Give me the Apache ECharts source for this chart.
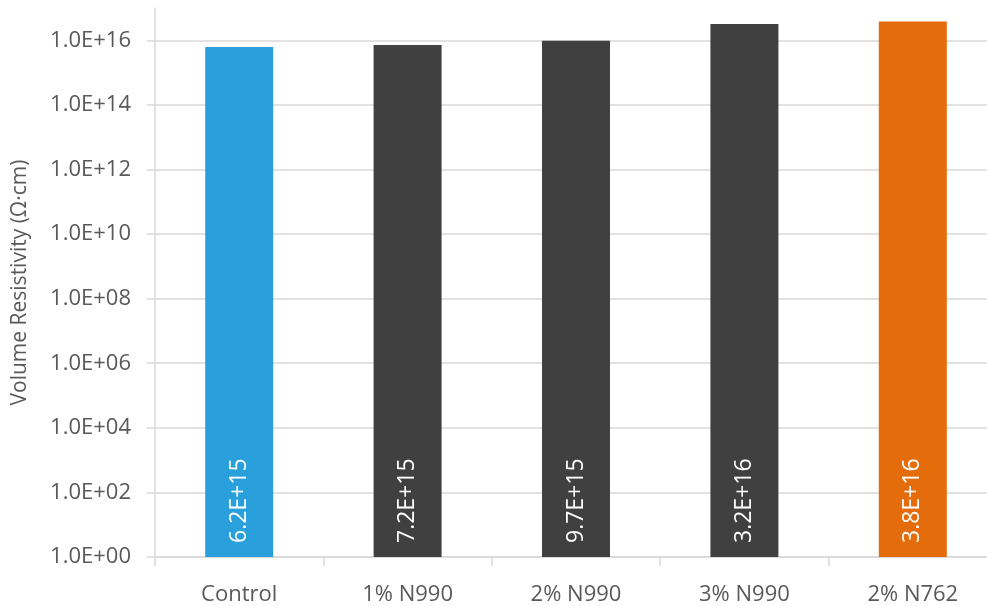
<!doctype html>
<html lang="en">
<head>
    <meta charset="UTF-8">
    <title>Volume Resistivity</title>
    <style>
        html, body { margin: 0; padding: 0; background: #fff; }
        #main { width: 987px; height: 606px; }
    </style>
    <script src="https://cdn.jsdelivr.net/npm/echarts@6/dist/echarts.min.js"></script>
</head>
<body>
    <div id="main"></div>
    <script>
        var categories = ['Control', '1% N990', '2% N990', '3% N990', '2% N762'];
        var resistivity = [6.2e15, 7.2e15, 9.7e15, 3.2e16, 3.8e16];
        var barColors = ['#29a0dc', '#404040', '#404040', '#404040', '#e46c0a'];

        // 1.0E+16 style, two-digit exponent
        function sci(v, digits) {
            var s = Number(v).toExponential(digits).toUpperCase();
            return s.replace(/E([+-])(\d)$/, 'E$10$2');
        }

        window.onload = function () {
            var myChart = echarts.init(document.getElementById('main'));
            var font = '"Open Sans", "Noto Sans", sans-serif';
            var option = {
                animation: false,
                grid: { left: 155, right: -10, top: 8, bottom: 49, outerBoundsMode: 'none', containLabel: false },
                xAxis: {
                    type: 'category',
                    data: categories,
                    axisLine: { lineStyle: { color: '#d9d9d9', width: 1.5 } },
                    axisTick: { show: true, length: 9, lineStyle: { color: '#d9d9d9', width: 1.5 } },
                    axisLabel: { color: '#595959', fontSize: 22, fontFamily: font, margin: 27 }
                },
                yAxis: {
                    type: 'log',
                    logBase: 10,
                    min: 1,
                    max: 1e17,
                    interval: 2,
                    name: 'Volume Resistivity (Ω·cm)',
                    nameLocation: 'middle',
                    nameGap: 124,
                    nameTextStyle: { color: '#595959', fontSize: 21, fontFamily: font },
                    axisLine: { show: true, lineStyle: { color: '#d9d9d9', width: 1.5 } },
                    axisTick: { show: true, length: 8, lineStyle: { color: '#d9d9d9', width: 1.5 } },
                    axisLabel: {
                        color: '#595959', fontSize: 22, fontFamily: font, margin: 24,
                        showMaxLabel: false,
                        formatter: function (v) { return sci(v, 1); }
                    },
                    splitLine: { showMaxLine: false, lineStyle: { color: '#d9d9d9', width: 1.5 } }
                },
                series: [{
                    type: 'bar',
                    barWidth: 68,
                    data: resistivity.map(function (v, i) {
                        return { value: v, itemStyle: { color: barColors[i] } };
                    }),
                    label: {
                        show: true,
                        position: 'insideBottom',
                        rotate: 90,
                        align: 'left',
                        verticalAlign: 'middle',
                        distance: 14,
                        color: '#ffffff',
                        fontSize: 23,
                        fontFamily: font,
                        formatter: function (p) { return sci(p.value, 1).replace(/E\+0?(\d+)$/, 'E+$1'); }
                    }
                }]
            };
            myChart.setOption(option);
        };
    </script>
</body>
</html>
